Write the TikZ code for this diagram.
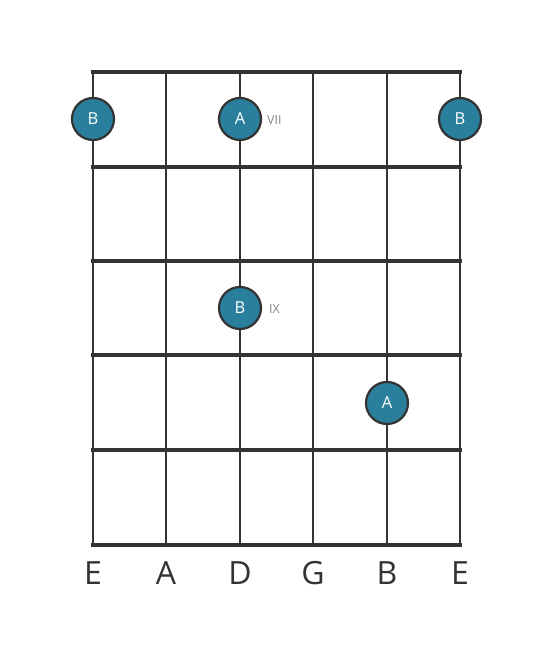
\documentclass[tikz,border=0pt]{standalone}
\usepackage{fontspec}
\setmainfont{Open Sans}
\definecolor{ink}{HTML}{333333}
\definecolor{dotfill}{HTML}{2A7F9C}
\definecolor{fretlbl}{HTML}{888888}
\begin{document}
\begin{tikzpicture}[x=1pt,y=-1pt,
  stringline/.style={draw=ink,line width=2.6pt},
  fretline/.style={draw=ink,line width=4.6pt},
  notedot/.style={circle,draw=ink,line width=2.2pt,fill=dotfill,minimum size=42pt,inner sep=0pt,text=white,font=\fontsize{16.5}{16.5}\selectfont},
  fretnum/.style={text=fretlbl,font=\fontsize{12.5}{12.5}\selectfont,anchor=west,inner sep=0pt},
  strname/.style={text=ink,font=\fontsize{32}{32}\selectfont,inner sep=0pt}]
\useasboundingbox (0,0) rectangle (553,656);
\fill[white] (0,0) rectangle (553,656);
% strings
\foreach \x [count=\i] in {93,166,240,313,387,460} {
  \coordinate (st\i) at (\x,72);
  \coordinate (sb\i) at (\x,545);
  \draw[stringline] (st\i) -- (sb\i);
}
% frets
\foreach \y [count=\j] in {72,167,261,355,450,545} {
  \coordinate (fl\j) at (91,\y);
  \coordinate (fr\j) at (462,\y);
  \draw[fretline] (fl\j) -- (fr\j);
}
% dots
\node[notedot] (d1) at (93,119) {B};
\node[notedot] (d2) at (240,119) {A};
\node[notedot] (d3) at (460,119) {B};
\node[notedot] (d4) at (240,308) {B};
\node[notedot] (d5) at (387,403) {A};
\node[fretnum] (n7) at (267,120) {VII};
\node[fretnum] (n9) at (269,309) {IX};
% string names
\foreach \x/\n [count=\k] in {93/E,166/A,240/D,313/G,387/B,460/E} {
  \node[strname] (s\k) at (\x,573) {\n};
}
\end{tikzpicture}
\end{document}
